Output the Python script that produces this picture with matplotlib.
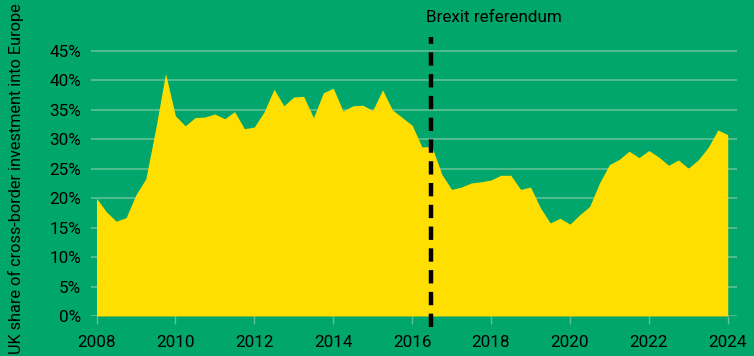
import numpy as np
import matplotlib.pyplot as plt

plt.rcParams['font.family'] = ['Roboto', 'DejaVu Sans']

# quarterly, 2008 Q1 .. 2024 Q1
years = np.arange(2008, 2024.01, 0.25)
share = [20.0, 17.7, 16.1, 16.7, 20.6, 23.3, 31.8, 41.2,
         34.0, 32.3, 33.7, 33.8, 34.3, 33.5, 34.7, 31.8,
         32.1, 34.7, 38.5, 35.7, 37.2, 37.3, 33.7, 37.9,
         38.7, 34.8, 35.7, 35.8, 34.9, 38.4, 35.0, 33.7,
         32.4, 28.7, 28.8, 24.1, 21.5, 21.9, 22.6, 22.8,
         23.1, 23.9, 23.9, 21.5, 21.9, 18.4, 15.8, 16.6,
         15.6, 17.2, 18.6, 22.6, 25.7, 26.6, 28.0, 26.9,
         28.1, 27.0, 25.6, 26.5, 25.1, 26.5, 28.6, 31.6,
         30.8]
yticks = [0, 5, 10, 15, 20, 25, 30, 35, 40, 45]
xticks = [2008, 2010, 2012, 2014, 2016, 2018, 2020, 2022, 2024]
brexit = 2016.47

green = '#00a66b'
yellow = '#ffdf00'
grid = '#62c095'

fig = plt.figure(figsize=(7.54, 3.56), dpi=100, facecolor=green)
ax = fig.add_axes([0.1203, 0.1124, 0.978 - 0.1203, 0.898 - 0.1124])
ax.set_facecolor(green)

ax.fill_between(years, share, 0, color=yellow, lw=0, zorder=2)

ax.set_xlim(2007.853, 2024.245)
ax.set_ylim(0, 47.5)
ax.set_yticks(yticks)
ax.set_yticklabels([f'{v}%' for v in yticks])
ax.set_xticks(xticks)
ax.set_xticklabels([str(v) for v in xticks])
ax.grid(axis='y', color=grid, lw=1.2, zorder=1)
ax.set_axisbelow(True)
for s in ax.spines.values():
    s.set_visible(False)
ax.tick_params(axis='y', length=0, pad=7, labelsize=12.3, labelcolor='black')
ax.tick_params(axis='x', length=6, width=1, color=grid, pad=8,
               labelsize=12.3, labelcolor='black')

ax.plot([brexit, brexit], [-1.9, 47.4], color='black', lw=3.2,
        dashes=(3.0, 1.9), clip_on=False, zorder=3)
ax.text(brexit - 0.13, 49.4, 'Brexit referendum', fontsize=12.3,
        ha='left', va='bottom', color='black')

fig.text(0.021, 0.497, 'UK share of cross-border investment into Europe',
         rotation=90, ha='center', va='center', fontsize=11.7, color='black')

fig.savefig('out.png', dpi=100, facecolor=green)
